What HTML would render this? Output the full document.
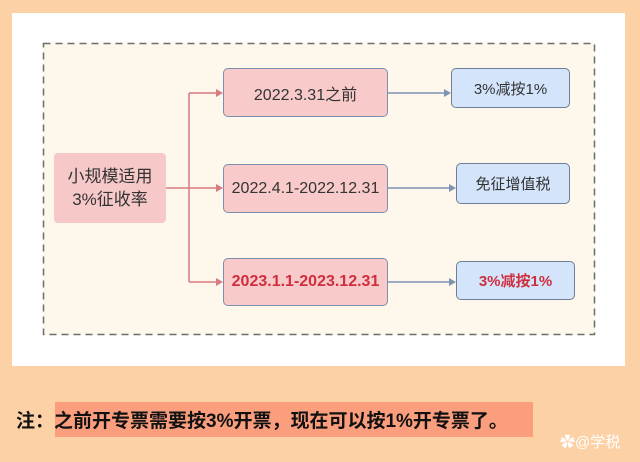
<!DOCTYPE html>
<html><head><meta charset="utf-8"><style>
body{margin:0;width:640px;height:462px;background:#fcd1a6;position:relative;overflow:hidden;font-family:"Liberation Sans","Noto Sans CJK SC",sans-serif;}
.abs{position:absolute;box-sizing:border-box;}
.panel{left:12px;top:13px;width:613px;height:353px;background:#fff;}
.dash{left:43px;top:43px;width:552px;height:292px;background:#fdf7ec;}
.pk{background:#f9caca;border:1.5px solid #7d8fae;border-radius:5px;display:flex;align-items:center;justify-content:center;font-size:16px;color:#333;}
.bl{background:#d3e4fb;border:1.5px solid #6f7f96;border-radius:5px;display:flex;align-items:center;justify-content:center;font-size:15px;color:#333;}
.red{color:#cf2e3e;font-weight:bold;}
</style></head><body>
<div class="abs panel"></div>
<div class="abs dash"></div>
<div class="abs" style="left:54px;top:153px;width:112px;height:70px;background:#f7c8c8;border-radius:4px;display:flex;align-items:center;justify-content:center;text-align:center;font-size:17px;color:#333;line-height:23px;">小规模适用<br>3%征收率</div>
<svg class="abs" style="left:0;top:0" width="640" height="462">
<rect x="43.5" y="43.5" width="551" height="291" fill="none" stroke="#6d6d6d" stroke-width="1.5" stroke-dasharray="7 5"/>
<g stroke="#d97a82" stroke-width="1.5" fill="none">
<path d="M166 188H222M189 93V282M189 93H218M189 282H218"/>
</g>
<g fill="#d97a82"><path d="M223 93l-7-4v8z"/><path d="M223 188l-7-4v8z"/><path d="M223 282l-7-4v8z"/></g>
<g stroke="#7f93b3" stroke-width="1.5"><path d="M388 93H446M388 188H451M388 282H451"/></g>
<g fill="#7f93b3"><path d="M451 93l-7-4v8z"/><path d="M456 188l-7-4v8z"/><path d="M456 282l-7-4v8z"/></g>
</svg>
<div class="abs pk" style="left:223px;top:68px;width:165px;height:49px;">2022.3.31之前</div>
<div class="abs pk" style="left:223px;top:164px;width:165px;height:49px;">2022.4.1-2022.12.31</div>
<div class="abs pk red" style="left:223px;top:258px;width:165px;height:48px;font-size:16px;">2023.1.1-2023.12.31</div>
<div class="abs bl" style="left:451px;top:68px;width:119px;height:40px;">3%减按1%</div>
<div class="abs bl" style="left:456px;top:163px;width:114px;height:41px;">免征增值税</div>
<div class="abs bl red" style="left:456px;top:261px;width:119px;height:39px;font-size:15px;">3%减按1%</div>
<div class="abs" style="left:55px;top:402px;width:478px;height:35px;background:#fb9e7e;"></div>
<div class="abs" style="left:16px;top:406px;font-size:19px;font-weight:bold;color:#111;white-space:nowrap;">注：之前开专票需要按3%开票，现在可以按1%开专票了。</div>
<div class="abs" style="left:560px;top:431px;font-size:15px;color:#fff;white-space:nowrap;">✿@学税</div>
</body></html>
